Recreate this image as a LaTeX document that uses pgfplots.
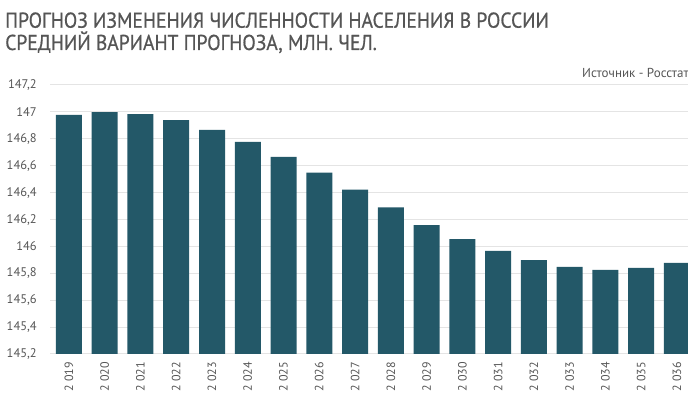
\documentclass[border=0pt]{standalone}
\usepackage{fontspec}
\setmainfont{PT Sans}
\newfontfamily\titlefont[FakeStretch=0.91,FakeBold=0.7]{PT Sans}
\usepackage{pgfplots}
\pgfplotsset{compat=1.18}
\definecolor{bar}{HTML}{235868}
\definecolor{txt}{HTML}{555555}
\definecolor{grd}{HTML}{E4E4E4}
\begin{document}
\begin{tikzpicture}[x=1pt,y=1pt]
\path[use as bounding box] (0,0) rectangle (688,411);
\node[anchor=base west, inner sep=0pt, text=txt, font=\titlefont\fontsize{21.5}{21.5}\selectfont] at (5,383.3) {ПРОГНОЗ ИЗМЕНЕНИЯ ЧИСЛЕННОСТИ НАСЕЛЕНИЯ В РОССИИ};
\node[anchor=base west, inner sep=0pt, text=txt, font=\titlefont\fontsize{21.5}{21.5}\selectfont] at (5,361) {СРЕДНИЙ ВАРИАНТ ПРОГНОЗА, МЛН. ЧЕЛ.};
\node[anchor=base west, inner sep=0pt, text=txt, font=\fontsize{13}{13}\selectfont] at (582,333) {Источник - Росстат};
\begin{axis}[
  at={(50pt,57pt)}, anchor=south west,
  scale only axis, width=638pt, height=269pt,
  ymin=145.2, ymax=147.2,
  xmin=-0.53, xmax=17.31,
  ytick={145.2,145.4,145.6,145.8,146,146.2,146.4,146.6,146.8,147,147.2},
  yticklabels={{145,2},{145,4},{145,6},{145,8},{146},{146,2},{146,4},{146,6},{146,8},{147},{147,2}},
  xtick={0,...,17},
  xticklabels={2 019,2 020,2 021,2 022,2 023,2 024,2 025,2 026,2 027,2 028,2 029,2 030,2 031,2 032,2 033,2 034,2 035,2 036},
  axis line style={draw=none},
  major tick length=0pt,
  ymajorgrids, major grid style={draw=grd, line width=1pt},
  yticklabel style={anchor=east, inner sep=0pt, xshift=-13pt, text=txt, font=\fontsize{12.5}{12.5}\selectfont},
  xticklabel style={yshift=-8pt, rotate=90, anchor=east, inner sep=0pt, text=txt, font=\fontsize{12}{12}\selectfont},
  ybar, bar width=26pt,
  clip=true,
]
\addplot[fill=bar, draw=none, bar shift=0pt] coordinates {
(0,146.978) (1,146.998) (2,146.983) (3,146.938) (4,146.866) (5,146.777)
(6,146.665) (7,146.549) (8,146.422) (9,146.291) (10,146.158) (11,146.054)
(12,145.967) (13,145.897) (14,145.848) (15,145.825) (16,145.840) (17,145.877)};
\end{axis}
\end{tikzpicture}
\end{document}
